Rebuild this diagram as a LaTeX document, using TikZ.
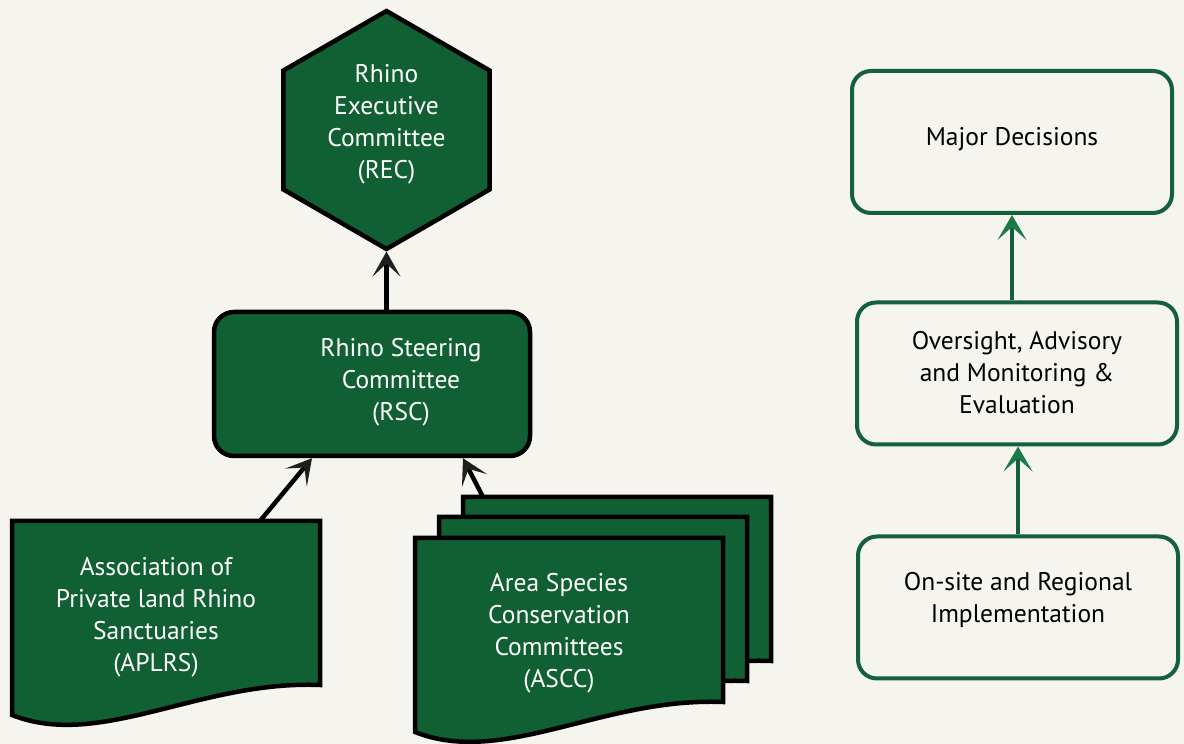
\documentclass[tikz,border=0pt]{standalone}
\usepackage{fontspec}
\setmainfont{PT Sans}
\usetikzlibrary{arrows.meta,shapes.geometric}
\definecolor{rhinogreen}{HTML}{116034}
\definecolor{rhinoline}{HTML}{14603A}
\definecolor{rhinohead}{HTML}{1B7A46}
\definecolor{paper}{HTML}{F5F4EE}
\definecolor{inkgray}{HTML}{1E1E1E}

\begin{document}
\begin{tikzpicture}[x=1pt,y=1pt,font=\fontsize{25.5}{32}\selectfont,
    body/.style={fill=rhinogreen,draw=black,line width=4.5pt,line join=miter},
    panel/.style={body,rectangle,rounded corners=20pt,
        minimum width=316pt,minimum height=144pt,inner sep=0pt},
    level/.style={draw=rhinoline,line width=4pt,fill=paper,rectangle,
        rounded corners=19pt,minimum width=320pt,minimum height=142pt,inner sep=0pt},
    whitetxt/.style={text=white,align=center},
    blacktxt/.style={text=black,align=center},
    uparrow/.style={draw=black,line width=4.5pt,
        -{Stealth[length=25pt,width=28pt,inset=13pt,color=inkgray]}},
    greenarrow/.style={draw=rhinoline,line width=4pt,
        -{Stealth[length=25pt,width=29pt,inset=13pt,color=rhinohead]}}]
    % Fondo y margenes.
    \useasboundingbox (0,0) rectangle (1184,744);
    \fill[paper] (0,0) rectangle (1184,744);

    % Comite ejecutivo y comite de direccion.
    \node[body,regular polygon,regular polygon sides=6,shape border rotate=30,
        minimum size=238pt,inner sep=0pt,
        label={[whitetxt,yshift=6pt]center:{Rhino\\Executive\\Committee\\(REC)}}]
        (rec) at (386.5,614) {};
    \node[panel,
        label={[whitetxt,xshift=29pt,yshift=2pt]center:{Rhino Steering\\Committee\\(RSC)}}]
        (rsc) at (372,360) {};

    % Hojas de APLRS y de los ASCC (de atras hacia delante).
    \foreach \sx/\sy/\nm in {12/223/aplrs,463/247/asccc,439/227/asccb,415/206/ascca}{
        \begin{scope}[shift={(\sx,\sy)}]
            \draw[body] (0,0) coordinate (\nm) -- (308,0) -- (308,-164)
                .. controls (188,-159) and (88,-229) .. (0,-194) -- cycle;
        \end{scope}
    }
    \node[whitetxt] (aplrstxt) at (156,127)
        {Association of\\Private land Rhino\\Sanctuaries\\(APLRS)};
    \node[whitetxt] (asccTxt) at (559,111)
        {Area Species\\Conservation\\Committees\\(ASCC)};

    % Flechas de la jerarquia.
    \draw[uparrow] (rec.south |- rsc.north) -- (rec.south);
    \draw[uparrow] ([xshift=248pt]aplrs) -- ([xshift=-60pt]rsc.south);
    \draw[uparrow] ([xshift=20pt]asccc) -- ([xshift=91pt]rsc.south);

    % Niveles de funcion a la derecha.
    \node[level,label={[blacktxt,yshift=3pt]center:{Major Decisions}}]
        (major) at (1012,602) {};
    \node[level,label={[blacktxt,yshift=1pt]center:{Oversight, Advisory\\and Monitoring \&\\Evaluation}}]
        (oversight) at (1017,370.5) {};
    \node[level,label={[blacktxt,yshift=8pt]center:{On-site and Regional\\Implementation}}]
        (onsite) at (1018,136.5) {};
    \draw[greenarrow] (major.south |- oversight.north) -- (major.south);
    \draw[greenarrow] (onsite.north) -- (onsite.north |- oversight.south);
\end{tikzpicture}
\end{document}
